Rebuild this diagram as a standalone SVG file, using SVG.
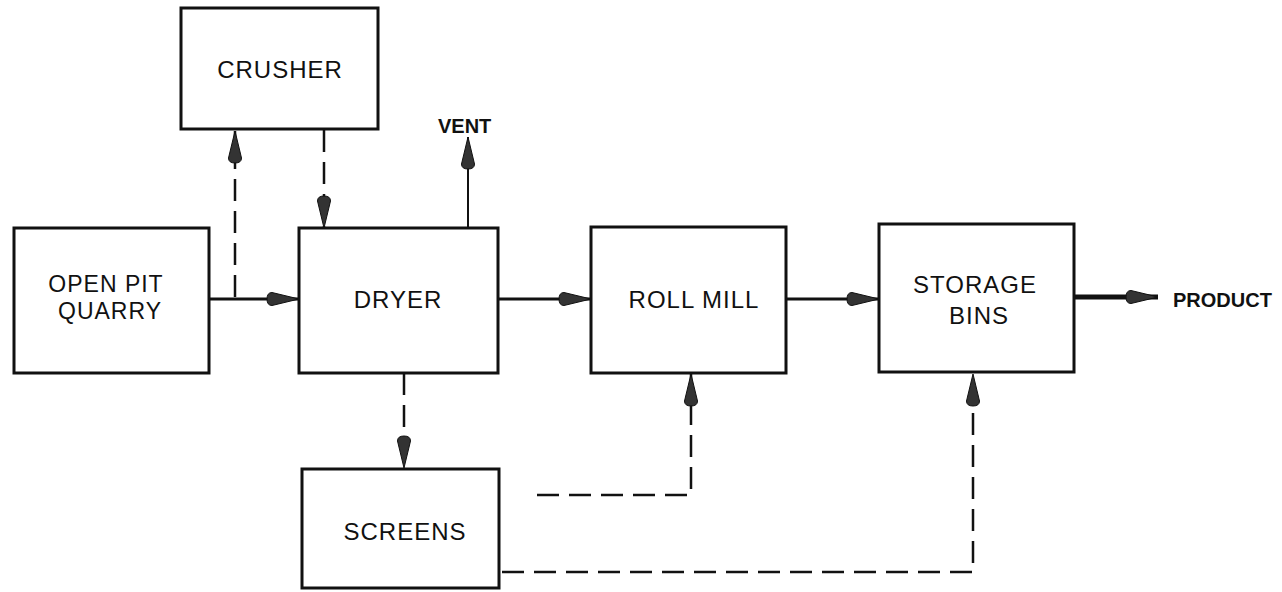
<svg xmlns="http://www.w3.org/2000/svg" width="1282" height="592" viewBox="0 0 1282 592">
<style>
.box{fill:#fff;stroke:#111;stroke-width:3}
.lbl{font-family:"Liberation Sans",Arial,sans-serif;font-size:24px;fill:#111;text-anchor:middle;letter-spacing:1px}
.sm{font-family:"Liberation Sans",Arial,sans-serif;font-size:20px;fill:#111;font-weight:bold}
.flow{fill:none;stroke:#111;stroke-width:3}
.dash{fill:none;stroke:#111;stroke-width:2.5;stroke-dasharray:22 10}
.thin{fill:none;stroke:#111;stroke-width:2}
.thick{fill:none;stroke:#111;stroke-width:5}
</style>
<defs>
<marker id="ah" markerUnits="userSpaceOnUse" markerWidth="34" markerHeight="16" viewBox="0 0 34 16" refX="33" refY="8" orient="auto">
<path d="M33,8 L6,1.5 Q1,1.5 1,8 Q1,14.5 6,14.5 Z" fill="#333" stroke="#111" stroke-width="1"/>
</marker>
</defs>
<rect width="1282" height="592" fill="#fff"/>
<g id="connectors">
<path class="flow" d="M209,299 L299,299" marker-end="url(#ah)"/>
<path class="dash" d="M235,297 L235,131" marker-end="url(#ah)"/>
<path class="dash" d="M324,130 L324,228" marker-end="url(#ah)"/>
<path class="thin" d="M468,228 L468,137" marker-end="url(#ah)"/>
<path class="flow" d="M498,299 L591,299" marker-end="url(#ah)"/>
<path class="flow" d="M786,299 L879,299" marker-end="url(#ah)"/>
<path class="thick" d="M1074,297 L1158,297" marker-end="url(#ah)"/>
<path class="dash" d="M404,373 L404,468" marker-end="url(#ah)"/>
<path class="dash" d="M537,495 L691,495 L691,374" marker-end="url(#ah)"/>
<path class="dash" d="M502,572 L973,572 L973,374" marker-end="url(#ah)"/>
</g>
<g id="crusher">
<rect class="box" x="181" y="8" width="197" height="121"/>
<text class="lbl" x="280" y="78">CRUSHER</text>
</g>
<g id="vent">
<text class="sm" x="438" y="133">VENT</text>
</g>
<g id="open-pit-quarry">
<rect class="box" x="14" y="228" width="195" height="145"/>
<text class="lbl" x="106" y="292" style="font-size:23px">OPEN PIT</text>
<text class="lbl" x="110" y="319" style="font-size:23px">QUARRY</text>
</g>
<g id="dryer">
<rect class="box" x="299" y="228" width="199" height="145"/>
<text class="lbl" x="398" y="308">DRYER</text>
</g>
<g id="roll-mill">
<rect class="box" x="591" y="227" width="195" height="146"/>
<text class="lbl" x="694" y="308">ROLL MILL</text>
</g>
<g id="storage-bins">
<rect class="box" x="879" y="224" width="195" height="148"/>
<text class="lbl" x="975" y="293">STORAGE</text>
<text class="lbl" x="979" y="324">BINS</text>
</g>
<g id="product">
<text class="sm" x="1173" y="307">PRODUCT</text>
</g>
<g id="screens">
<rect class="box" x="302" y="469" width="197" height="119"/>
<text class="lbl" x="405" y="540">SCREENS</text>
</g>
</svg>
